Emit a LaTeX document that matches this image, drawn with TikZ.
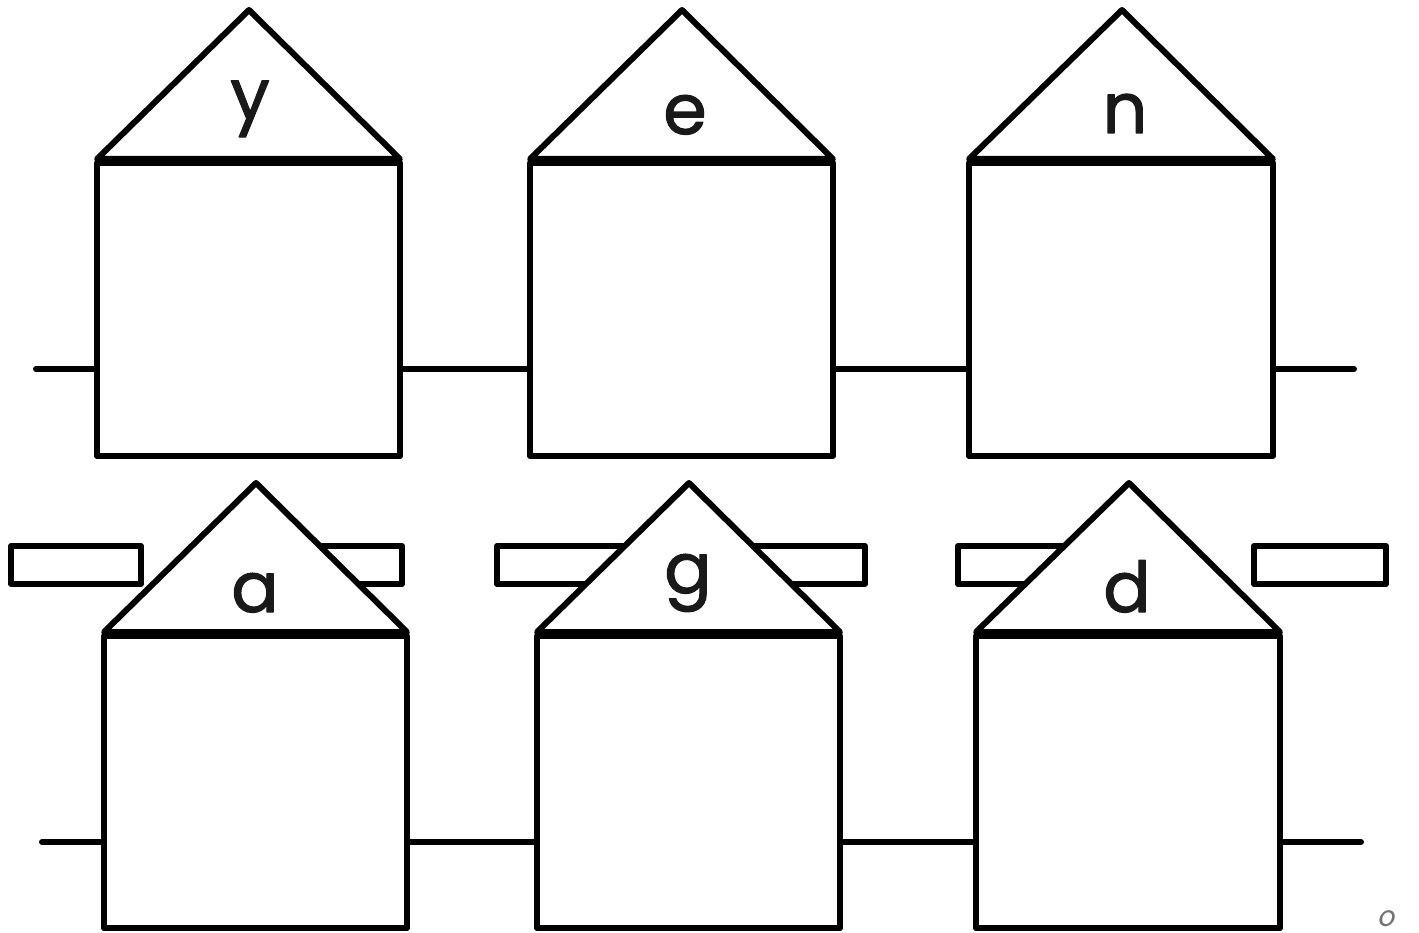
\documentclass[tikz,border=0pt]{standalone}
\usepackage{fontspec}
\newfontfamily\letterfont[FakeBold=1.6]{Poppins}
\begin{document}
\begin{tikzpicture}[x=1pt,y=-1pt,
  line width=6pt, line join=round, line cap=round,
  box/.style={draw, line width=6pt, minimum width=303pt, minimum height=293pt, inner sep=0pt, outer sep=0pt},
  roof/.style={draw, fill=white, line width=6pt, line join=round},
  plank/.style={draw, fill=white, line width=6pt, line join=round},
  wire/.style={line width=6pt, line cap=round},
  letter/.style={anchor=base, inner sep=0pt, font=\letterfont\fontsize{70}{70}\selectfont, text=black!90}]
\fill[white] (0,0) rectangle (1419,933);
\useasboundingbox (0,0) rectangle (1419,933);

% top row boxes
\node[box] (b1) at (248.5,309.5) {};
\node[box] (b2) at (681.5,309.5) {};
\node[box, minimum width=304pt] (b3) at (1121,309.5) {};
% top roofs
\draw[roof] (97,159) -- (249,10) -- (400,159) -- cycle;
\draw[roof] (530,159) -- (682,10) -- (833,159) -- cycle;
\draw[roof] (969,159) -- (1122,10) -- (1273,159) -- cycle;
\node[letter] (ly) at (250,119) {y};
\node[letter] (le) at (685,134) {e};
\node[letter] (ln) at (1125,133) {n};
% top wires
\coordinate (t0) at (36,369);
\coordinate (t4) at (1354,369);
\draw[wire] (t0) -- (b1.west |- t0);
\draw[wire] (b1.east |- t0) -- (b2.west |- t0);
\draw[wire] (b2.east |- t0) -- (b3.west |- t0);
\draw[wire] (b3.east |- t0) -- (t4);

% planks (behind bottom roofs)
\draw[plank] (11,546) rectangle (141,584);
\draw[plank] (272,546) rectangle (402,584);
\draw[plank] (497,546) rectangle (627,584);
\draw[plank] (735,546) rectangle (865,584);
\draw[plank] (958,546) rectangle (1088,584);
\draw[plank] (1254,546) rectangle (1386,584);

% bottom row boxes
\node[box, minimum height=292pt] (b4) at (255.5,782) {};
\node[box, minimum height=292pt] (b5) at (688.5,782) {};
\node[box, minimum height=292pt, minimum width=304pt] (b6) at (1128,782) {};
% bottom roofs
\draw[roof] (104,632) -- (256,483) -- (407,632) -- cycle;
\draw[roof] (537,632) -- (689,483) -- (840,632) -- cycle;
\draw[roof] (976,632) -- (1129,483) -- (1280,632) -- cycle;
\node[letter] (la) at (255,612) {a};
\node[letter] (lg) at (688,593) {g};
\node[letter] (ld) at (1127,612) {d};
% bottom wires
\coordinate (u0) at (42,842);
\coordinate (u4) at (1361,842);
\draw[wire] (u0) -- (b4.west |- u0);
\draw[wire] (b4.east |- u0) -- (b5.west |- u0);
\draw[wire] (b5.east |- u0) -- (b6.west |- u0);
\draw[wire] (b6.east |- u0) -- (u4);

% small mark
\node[anchor=base, inner sep=0pt, text=black!55, font=\sffamily\itshape\fontsize{36}{36}\selectfont] (mark) at (1386,926) {o};
\end{tikzpicture}
\end{document}
